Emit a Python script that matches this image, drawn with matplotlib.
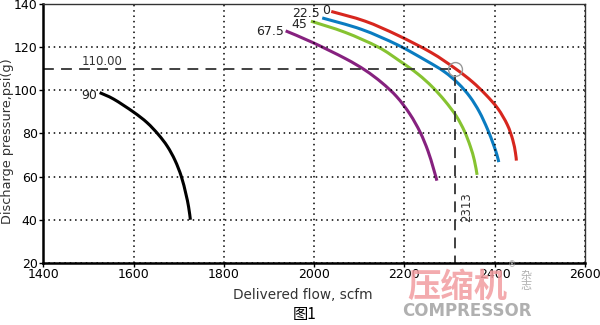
import matplotlib.pyplot as plt
import numpy as np
from matplotlib.path import Path
from matplotlib.patches import PathPatch

plt.rcParams['font.family'] = ['DejaVu Sans', 'Noto Sans CJK SC']

# curves: flow (scfm), pressure (psig)
flow_0 = [2038, 2113, 2185, 2259, 2313, 2350, 2380, 2407, 2428, 2440, 2446, 2448]
pres_0 = [136.5, 132, 125.5, 117.5, 110, 104, 98, 91.5, 84, 77, 71, 67.4]
flow_225 = [2018, 2105, 2185, 2250, 2289, 2320, 2345, 2366, 2384, 2397, 2405, 2409]
pres_225 = [133.5, 128.2, 121, 113.5, 108.5, 103, 97, 90, 82, 75, 70, 66.7]
flow_45 = [1993, 2069, 2142, 2190, 2230, 2262, 2290, 2315, 2333, 2346, 2355, 2361]
pres_45 = [132, 126.8, 120, 113.5, 107.5, 101.5, 95, 88, 81, 74, 67.5, 60.8]
flow_675 = [1937, 1996, 2069, 2113, 2150, 2183, 2212, 2235, 2252, 2264, 2272]
pres_675 = [127.5, 122.2, 114.7, 109.3, 103.5, 97, 89, 80.5, 72, 64, 58.1]
flow_90 = [1525, 1556, 1600, 1630, 1655, 1675, 1692, 1706, 1716, 1722, 1726]
pres_90 = [98.9, 95.9, 89.9, 85, 79.5, 74, 67.5, 60, 52, 46, 40]

curves = [
    (flow_0, pres_0, '#d7261e', '0', (2026, 136.8)),
    (flow_225, pres_225, '#0a7cc1', '22.5', (1983, 135.4)),
    (flow_45, pres_45, '#86c331', '45', (1967, 130.3)),
    (flow_675, pres_675, '#86217f', '67.5', (1902, 127)),
    (flow_90, pres_90, '#000000', '90', (1502, 97.5)),
]

op_flow = 2313
op_pres = 110.00


def smooth_path(xs, ys):
    # bezier path through the read points (catmull-rom handles)
    p = np.column_stack([xs, ys]).astype(float)
    verts = [p[0]]
    codes = [Path.MOVETO]
    for i in range(len(p) - 1):
        p0 = p[i - 1] if i > 0 else p[i]
        p3 = p[i + 2] if i + 2 < len(p) else p[i + 1]
        c1 = p[i] + (p[i + 1] - p0) / 6
        c2 = p[i + 1] - (p3 - p[i]) / 6
        verts += [c1, c2, p[i + 1]]
        codes += [Path.CURVE4] * 3
    return Path(verts, codes)


fig = plt.figure(figsize=(6, 3.25), dpi=100)
ax = fig.add_axes([0.072, 0.191, 0.903, 0.797])

for fx, py, col, lab, pos in curves:
    ax.add_patch(PathPatch(smooth_path(fx, py), fc='none', ec=col, lw=2.2, capstyle='butt'))
    ax.text(pos[0], pos[1], lab, fontsize=9, color='#222222', ha='center', va='center')

# operating point lines
ax.plot([1400, op_flow - 10], [op_pres, op_pres], color='#333333', lw=1.3, dashes=(6, 4))
ax.plot([op_flow, op_flow], [op_pres - 3, 20], color='#333333', lw=1.3, dashes=(6, 4))
ax.plot(op_flow, op_pres, 'o', ms=10, mfc='none', mec='#999999', mew=1)
ax.text(1530, 113.3, '%.2f' % op_pres, fontsize=8.5, color='#333333', ha='center', va='center')
ax.text(2337, 46, str(op_flow), fontsize=8.5, color='#333333', ha='center', va='center', rotation=90)

ax.set_xlim(1400, 2600)
ax.set_ylim(20, 140)
ax.set_xticks(np.arange(1400, 2601, 200))
ax.set_yticks(np.arange(20, 141, 20))
ax.grid(True, color='black', linestyle=(0, (1, 2.5)), lw=1.1)
ax.tick_params(direction='out', length=3, width=1, labelsize=9, colors='black', pad=1)
for s in ['left', 'bottom']:
    ax.spines[s].set_linewidth(1.8)
for s in ['top', 'right']:
    ax.spines[s].set_linewidth(1)
    ax.spines[s].set_color('#333333')

fig.text(0.013, 0.566, 'Discharge pressure,psi(g)', rotation=90, fontsize=9.3,
         color='#333333', ha='center', va='center')
fig.text(0.505, 0.092, 'Delivered flow, scfm', fontsize=9.8, color='#333333',
         ha='center', va='center')
fig.text(0.508, 0.031, '图1', fontsize=11, color='black', ha='center', va='center',
         family=['Noto Sans CJK SC', 'DejaVu Sans'])

# watermark
fig.text(0.762, 0.115, '压缩机', fontsize=24, color='#f29ca0', alpha=0.85, ha='center',
         va='center', family=['Noto Sans CJK SC'], fontweight='bold')
fig.text(0.877, 0.135, '杂\n志', fontsize=8, color='#b0b0b0', ha='center', va='center',
         family=['Noto Sans CJK SC'], linespacing=1.0)
fig.text(0.853, 0.185, '®', fontsize=6, color='#b0b0b0', ha='center', va='center')
fig.text(0.778, 0.043, 'COMPRESSOR', fontsize=12, color='#b0b0b0', ha='center', va='center',
         fontweight='bold')

fig.savefig('out.png', dpi=100)
